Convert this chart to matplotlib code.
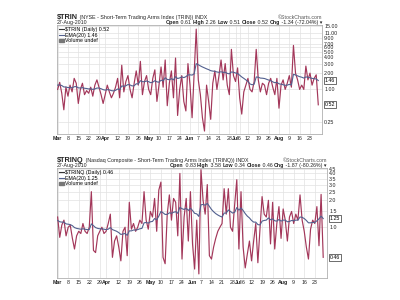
import pandas as pd
import matplotlib
matplotlib.use('Agg')
import matplotlib.pyplot as plt
from matplotlib.lines import Line2D
from matplotlib.patches import Patch
from matplotlib.ticker import FixedLocator, NullLocator

plt.rcParams['font.family'] = ['Liberation Sans', 'DejaVu Sans']

# trading calendar Mar 1 - Aug 27 2010
holidays = ['2010-04-02', '2010-05-31', '2010-07-05']
tick_dates = ['2010-03-01', '2010-03-08', '2010-03-15', '2010-03-22', '2010-03-29',
              '2010-04-01', '2010-04-12', '2010-04-19', '2010-04-26',
              '2010-05-03', '2010-05-10', '2010-05-17', '2010-05-24',
              '2010-06-01', '2010-06-07', '2010-06-14', '2010-06-21', '2010-06-28',
              '2010-07-01', '2010-07-06', '2010-07-12', '2010-07-19', '2010-07-26',
              '2010-08-02', '2010-08-09', '2010-08-16', '2010-08-23']
tick_labels = ['Mar', '8', '15', '22', '29', 'Apr', '12', '19', '26',
               'May', '10', '17', '24', 'Jun', '7', '14', '21', '28',
               'Jul', '6', '12', '19', '26', 'Aug', '9', '16', '23']
months = ['Mar', 'Apr', 'May', 'Jun', 'Jul', 'Aug']

trin = [1.00, 1.35, 0.85, 0.42, 1.10, 0.75, 1.20, 0.90, 1.60, 1.30,
        0.55, 1.00, 1.30, 0.80, 0.95, 0.85, 1.10, 0.75, 1.20, 1.50,
        1.10, 0.80, 0.55, 0.80, 1.20, 0.90, 0.70, 0.85, 1.10, 1.60,
        0.70, 2.80, 0.90, 1.40, 1.80, 1.00, 0.70, 1.30, 2.20, 1.20,
        3.30, 0.80, 1.40, 1.80, 1.00, 0.80, 1.60, 2.30, 0.60, 1.20,
        2.60, 1.10, 3.50, 0.50, 1.30, 2.20, 0.70, 3.80, 0.33, 1.00,
        1.80, 0.60, 0.40, 3.00, 1.20, 0.30, 2.00, 13.0, 1.50, 0.80,
        0.30, 0.17, 1.20, 0.60, 0.28, 1.30, 2.20, 1.00, 1.80, 3.50,
        1.50, 3.00, 1.20, 0.80, 5.50, 1.80, 1.40, 2.50, 0.70, 0.35,
        0.90, 1.20, 1.60, 1.00, 0.90, 1.40, 5.50, 1.50, 0.90, 1.30,
        1.20, 0.80, 1.30, 1.60, 1.10, 0.80, 1.60, 0.45, 1.20, 1.50,
        1.00, 1.30, 1.80, 1.10, 6.50, 2.00, 1.50, 1.00, 1.20, 1.00,
        2.70, 1.50, 2.00, 1.20, 1.60, 1.86, 0.52]
trin_ema = [1.20, 1.21, 1.18, 1.11, 1.11, 1.08, 1.09, 1.07, 1.12, 1.13,
            1.07, 1.06, 1.08, 1.05, 1.04, 1.02, 1.03, 1.00, 1.02, 1.06,
            1.06, 1.03, 0.99, 0.97, 0.99, 0.98, 0.95, 0.94, 0.96, 1.02,
            0.99, 1.16, 1.14, 1.17, 1.23, 1.21, 1.16, 1.17, 1.27, 1.26,
            1.45, 1.39, 1.39, 1.43, 1.39, 1.33, 1.36, 1.45, 1.38, 1.36,
            1.48, 1.44, 1.64, 1.53, 1.51, 1.58, 1.50, 1.72, 1.59, 1.63,
            1.71, 1.65, 1.72, 1.85, 1.86, 1.84, 1.94, 2.99, 2.86, 2.72,
            2.60, 2.50, 2.40, 2.32, 2.22, 2.18, 2.16, 2.10, 2.07, 2.12,
            2.06, 2.08, 1.98, 1.94, 2.10, 2.08, 2.01, 1.97, 1.83, 1.70,
            1.60, 1.50, 1.40, 1.26, 1.22, 1.25, 1.70, 1.68, 1.62, 1.61,
            1.59, 1.54, 1.49, 1.45, 1.38, 1.33, 1.35, 1.27, 1.25, 1.22,
            1.19, 1.20, 1.24, 1.21, 1.90, 1.85, 1.78, 1.72, 1.68, 1.62,
            1.70, 1.68, 1.64, 1.60, 1.58, 1.56, 1.46]

trinq = [1.30, 0.77, 1.06, 1.20, 0.80, 1.00, 1.05, 0.75, 0.57, 0.80,
         0.90, 0.85, 1.10, 0.90, 0.85, 1.00, 2.50, 0.55, 0.52, 0.80,
         0.90, 1.00, 0.85, 0.90, 1.10, 1.40, 0.46, 0.70, 0.80, 0.60,
         0.42, 0.90, 1.00, 0.48, 1.90, 0.95, 1.10, 0.90, 1.00, 1.20,
         1.10, 2.50, 1.20, 0.95, 1.50, 1.30, 2.10, 0.90, 2.60, 3.20,
         0.46, 0.39, 1.40, 2.30, 1.20, 2.10, 1.90, 0.80, 4.00, 0.44,
         1.30, 2.10, 0.70, 2.50, 0.65, 0.34, 1.20, 0.30, 4.40, 2.00,
         1.40, 3.00, 0.48, 0.44, 0.60, 0.75, 0.90, 1.00, 1.10, 2.70,
         1.40, 2.70, 1.00, 0.90, 1.80, 3.40, 0.57, 2.50, 0.60, 0.35,
         0.50, 0.70, 0.42, 0.70, 1.10, 0.40, 0.95, 2.20, 1.40, 1.30,
         2.00, 0.65, 1.90, 0.57, 1.10, 1.70, 0.75, 1.60, 1.20, 0.70,
         1.30, 1.50, 1.10, 1.40, 1.20, 2.30, 1.20, 0.90, 0.60, 0.44,
         0.95, 1.20, 1.10, 1.70, 0.62, 2.33, 0.46]
trinq_ema = [1.19, 1.15, 1.14, 1.14, 1.09, 1.08, 1.07, 1.04, 0.99, 0.97,
             0.96, 0.95, 0.96, 0.95, 0.94, 0.94, 1.09, 1.04, 0.99, 0.97,
             0.96, 0.96, 0.95, 0.94, 0.95, 0.99, 0.94, 0.92, 0.90, 0.87,
             0.83, 0.84, 0.85, 0.81, 0.91, 0.91, 0.93, 0.93, 0.94, 0.96,
             0.97, 1.12, 1.13, 1.11, 1.15, 1.16, 1.25, 1.21, 1.33, 1.50,
             1.45, 1.39, 1.39, 1.45, 1.43, 1.47, 1.49, 1.43, 1.67, 1.61,
             1.58, 1.63, 1.54, 1.63, 1.54, 1.43, 1.41, 1.32, 1.78, 1.80,
             1.76, 1.85, 1.71, 1.58, 1.49, 1.42, 1.37, 1.33, 1.30, 1.44,
             1.44, 1.56, 1.50, 1.44, 1.47, 1.66, 1.55, 1.64, 1.54, 1.42,
             1.33, 1.27, 1.19, 1.14, 1.14, 1.07, 1.06, 1.17, 1.19, 1.20,
             1.27, 1.21, 1.24, 1.18, 1.17, 1.22, 1.17, 1.20, 1.20, 1.15,
             1.16, 1.19, 1.18, 1.20, 1.20, 1.30, 1.29, 1.25, 1.19, 1.12,
             1.12, 1.13, 1.13, 1.18, 1.24, 1.33, 1.25]

trin_yticks = [0.25, 1, 2, 3, 4, 5, 6, 7, 9, 11, 15]
trinq_yticks = [1.0, 1.5, 2.0, 2.5, 3.0, 3.5, 4.0, 4.5]

LINE = '#a3375a'
EMA = '#52608f'
GRID = '#e2e2e2'
TXT = '#222222'
FS = 3.8

days = pd.bdate_range('2010-03-01', '2010-08-27')
days = days[~days.isin(pd.to_datetime(holidays))]
x = list(range(len(days)))
tick_pos = [days.get_loc(pd.Timestamp(d)) for d in tick_dates]

fig = plt.figure(figsize=(4, 3), dpi=100)
W, H = 400.0, 300.0
renderer = fig.canvas.get_renderer()


def box(left, top, right, bottom):
    return [left / W, 1 - bottom / H, (right - left) / W, (bottom - top) / H]


def text_row(x0, y, pieces, align='left'):
    """Place (text, size, bold) pieces side by side on one baseline."""
    objs = [fig.text(0, 1 - y / H, s, fontsize=size,
                     fontweight='bold' if bold else 'normal',
                     va='baseline', ha='left', color=TXT)
            for s, size, bold in pieces]
    widths = [o.get_window_extent(renderer).width for o in objs]
    pos = x0 - sum(widths) if align == 'right' else x0
    for o, w in zip(objs, widths):
        o.set_x(pos / W)
        pos += w


def panel(ax, vals, ema, ylim, yticks, fmt, name, ema_lbl):
    ax.set_yscale('log')
    ax.plot(x, vals, color=LINE, lw=0.85, zorder=3)
    ax.plot(x, ema, color=EMA, lw=0.8, zorder=4)
    ax.set_xlim(-0.3, 127.8)
    ax.set_ylim(*ylim)
    ax.yaxis.tick_right()
    ax.yaxis.set_major_locator(FixedLocator(yticks))
    ax.yaxis.set_minor_locator(NullLocator())
    ax.set_yticklabels([fmt.format(t) for t in yticks])
    ax.set_xticks(tick_pos)
    ax.set_xticklabels(tick_labels)
    for lab in ax.get_xticklabels():
        if lab.get_text() in months:
            lab.set_fontweight('bold')
    ax.tick_params(axis='both', length=0, labelsize=FS, colors=TXT, pad=1.5)
    ax.grid(True, color=GRID, lw=0.5, zorder=0)
    for s in ax.spines.values():
        s.set_color('#b0b0b0')
        s.set_linewidth(0.6)
    handles = [Line2D([], [], color='#333333', lw=0.8),
               Line2D([], [], color=EMA, lw=0.8),
               Patch(color='#777777')]
    ax.legend(handles, [name, ema_lbl, 'Volume undef'], loc='upper left',
              fontsize=FS, frameon=False, handlelength=0.9, handleheight=0.5,
              handletextpad=0.3, borderpad=0.15, borderaxespad=0.2,
              labelspacing=0.15)
    # last value boxes on the right scale
    for v in (ema[-1], vals[-1]):
        ax.annotate('{:.2f}'.format(v), xy=(1, v),
                    xycoords=('axes fraction', 'data'),
                    xytext=(2, 0), textcoords='offset points', fontsize=FS,
                    va='center', ha='left', color='black',
                    bbox=dict(boxstyle='square,pad=0.15', fc='white',
                              ec='#333333', lw=0.5))


def header(y_title, y_info, left, right, sym, desc, info):
    text_row(left, y_title, [(sym, 5.2, True), (desc, FS, False)])
    fig.text(right / W, 1 - y_title / H, '\u00a9StockCharts.com',
             fontsize=FS, ha='right', va='baseline', color='#555555')
    fig.text(left / W, 1 - y_info / H, '27-Aug-2010', fontsize=FS,
             va='baseline', color=TXT)
    text_row(right, y_info, [(s, FS, b) for s, b in info], align='right')


ax1 = fig.add_axes(box(57, 25, 322, 134))
panel(ax1, trin, trin_ema, (0.15, 15.5), trin_yticks, '{:.2f}',
      '$TRIN (Daily) 0.52', 'EMA(20) 1.46')
header(19, 24, 57, 322, '$TRIN',
       ' (NYSE - Short-Term Trading Arms Index (TRIN)) INDX',
       [('Open', True), (' 0.61 ', False), ('High', True), (' 2.26 ', False),
        ('Low', True), (' 0.51 ', False), ('Close', True), (' 0.52 ', False),
        ('Chg', True), (' -1.34 (-72.04%) \u25be', False)])

ax2 = fig.add_axes(box(57, 168, 327, 278))
panel(ax2, trinq, trinq_ema, (0.27, 4.6), trinq_yticks, '{:.1f}',
      '$TRINQ (Daily) 0.46', 'EMA(20) 1.25')
header(162, 167, 57, 327, '$TRINQ',
       ' (Nasdaq Composite - Short-Term Trading Arms Index (TRINQ)) INDX',
       [('Open', True), (' 0.83 ', False), ('High', True), (' 3.58 ', False),
        ('Low', True), (' 0.34 ', False), ('Close', True), (' 0.46 ', False),
        ('Chg', True), (' -1.87 (-80.26%) \u25be', False)])

fig.savefig('out.png', dpi=100)
